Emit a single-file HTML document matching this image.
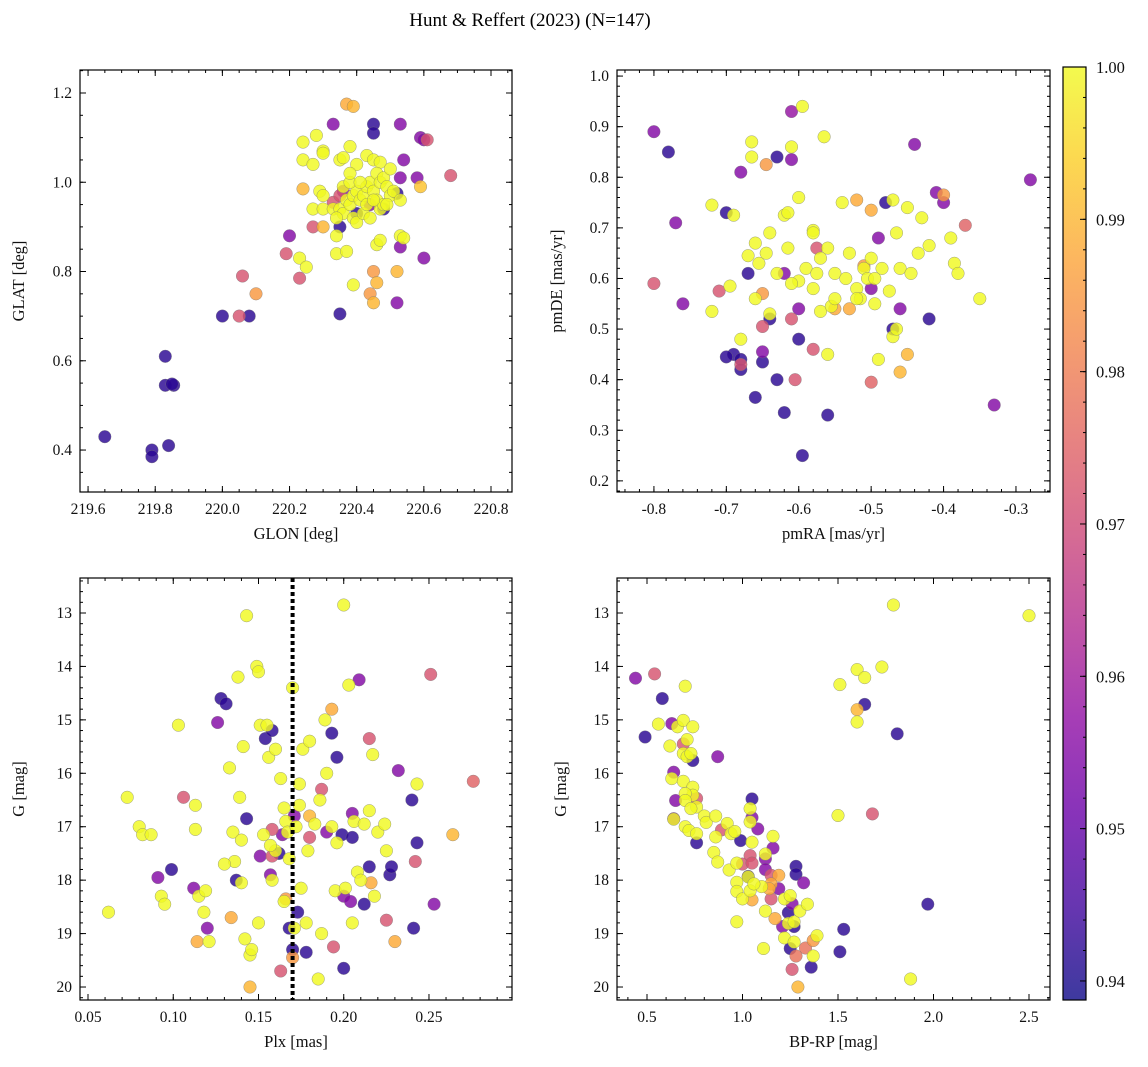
<!DOCTYPE html>
<html><head><meta charset="utf-8"><style>
body{margin:0;background:#fff;}
svg{display:block;font-family:"Liberation Serif",serif;}
</style></head><body>
<svg id="chart" width="1148" height="1067" viewBox="0 0 1148 1067">
<defs><linearGradient id="plasma" x1="0" y1="1" x2="0" y2="0">
<stop offset="0" stop-color="#0d0887"/><stop offset="0.1" stop-color="#41049d"/><stop offset="0.2" stop-color="#6a00a8"/><stop offset="0.3" stop-color="#8f0da4"/><stop offset="0.4" stop-color="#b12a90"/><stop offset="0.5" stop-color="#cc4778"/><stop offset="0.6" stop-color="#e16462"/><stop offset="0.7" stop-color="#f2844b"/><stop offset="0.8" stop-color="#fca636"/><stop offset="0.9" stop-color="#fcce25"/><stop offset="1" stop-color="#f0f921"/>
</linearGradient></defs>
<text x="530" y="26" text-anchor="middle" font-size="19">Hunt &amp; Reffert (2023) (N=147)</text>
</svg>
<script>
const probRange = [0.93875, 1.0];
const cbTicks = [0.94, 0.95, 0.96, 0.97, 0.98, 0.99, 1.00];
const p1Points = [[219.65,0.43,0.942],[219.79,0.40,0.942],[219.79,0.385,0.942],[219.83,0.61,0.942],[219.83,0.545,0.942],[219.855,0.545,0.942],[219.85,0.548,0.942],[219.84,0.41,0.942],[220.0,0.70,0.942],[220.08,0.70,0.942],[220.35,0.705,0.942],[220.45,1.13,0.942],[220.45,1.11,0.942],[220.52,0.975,0.942],[220.35,0.90,0.942],[220.4,0.93,0.942],[220.48,0.94,0.942],
[220.52,0.73,0.955],[220.53,0.855,0.955],[220.6,0.83,0.955],[220.33,1.13,0.955],[220.53,1.13,0.955],[220.54,1.05,0.955],[220.59,1.10,0.955],[220.6,1.095,0.955],[220.58,1.01,0.955],[220.53,1.01,0.955],[220.2,0.88,0.955],[220.36,0.98,0.955],[220.44,0.95,0.955],
[220.06,0.79,0.972],[220.05,0.70,0.972],[220.19,0.84,0.972],[220.23,0.785,0.972],[220.68,1.015,0.972],[220.61,1.095,0.972],[220.27,0.90,0.972],[220.33,0.955,0.972],[220.35,0.97,0.972],
[220.1,0.75,0.985],[220.37,1.175,0.988],[220.39,1.17,0.99],[220.44,0.75,0.985],[220.45,0.80,0.985],[220.52,0.80,0.99],[220.59,0.99,0.992],[220.24,0.985,0.99],[220.3,0.9,0.99],[220.45,0.73,0.99],[220.46,0.775,0.99],
[220.24,1.09,1],[220.28,1.105,1],[220.3,1.07,1],[220.24,1.05,1],[220.27,1.04,1],[220.3,1.065,1],[220.35,1.05,1],[220.36,1.055,1],[220.38,1.08,1],[220.4,1.04,1],[220.43,1.06,1],[220.45,1.05,1],[220.47,1.045,1],[220.29,0.98,1],[220.3,0.97,1],[220.27,0.94,1],[220.3,0.94,1],[220.33,0.94,1],[220.35,0.94,1],[220.36,0.93,1],[220.37,0.96,1],[220.38,0.95,1],[220.39,0.97,1],[220.4,0.98,1],[220.41,0.96,1],[220.42,0.97,1],[220.43,0.99,1],[220.44,1.0,1],[220.45,0.98,1],[220.46,1.02,1],[220.47,1.0,1],[220.48,1.01,1],[220.49,0.99,1],[220.5,1.03,1],[220.36,0.99,1],[220.38,1.0,1],[220.39,0.92,1],[220.4,0.91,1],[220.42,0.93,1],[220.43,0.95,1],[220.44,0.92,1],[220.46,0.96,1],[220.47,0.94,1],[220.48,0.95,1],[220.5,0.97,1],[220.51,0.98,1],[220.23,0.83,1],[220.25,0.81,1],[220.34,0.84,1],[220.34,0.88,1],[220.37,0.845,1],[220.39,0.77,1],[220.46,0.86,1],[220.47,0.87,1],[220.53,0.88,1],[220.54,0.875,1],[220.49,0.95,1],[220.41,1.0,1],[220.53,0.96,1],[220.38,1.02,1],[220.34,0.92,1],[220.45,0.96,1]];
const p2Points = [[-0.78,0.85,0.942],[-0.70,0.73,0.942],[-0.69,0.45,0.942],[-0.68,0.44,0.942],[-0.68,0.42,0.942],[-0.67,0.61,0.942],[-0.66,0.365,0.942],[-0.65,0.435,0.942],[-0.64,0.52,0.942],[-0.63,0.84,0.942],[-0.63,0.40,0.942],[-0.62,0.335,0.942],[-0.6,0.48,0.942],[-0.595,0.25,0.942],[-0.56,0.33,0.942],[-0.48,0.75,0.942],[-0.47,0.50,0.942],[-0.42,0.52,0.942],[-0.70,0.445,0.942],
[-0.80,0.89,0.955],[-0.77,0.71,0.955],[-0.76,0.55,0.955],[-0.68,0.81,0.955],[-0.61,0.835,0.955],[-0.61,0.93,0.958],[-0.60,0.54,0.955],[-0.49,0.68,0.955],[-0.50,0.58,0.955],[-0.46,0.54,0.955],[-0.44,0.865,0.955],[-0.41,0.77,0.955],[-0.40,0.75,0.955],[-0.33,0.35,0.955],[-0.28,0.795,0.955],[-0.65,0.455,0.955],[-0.62,0.61,0.955],
[-0.80,0.59,0.972],[-0.71,0.575,0.972],[-0.65,0.505,0.972],[-0.61,0.52,0.972],[-0.605,0.40,0.972],[-0.58,0.46,0.972],[-0.575,0.66,0.972],[-0.37,0.705,0.975],[-0.50,0.395,0.975],[-0.68,0.43,0.972],
[-0.645,0.825,0.985],[-0.65,0.57,0.985],[-0.52,0.755,0.988],[-0.50,0.735,0.988],[-0.53,0.54,0.988],[-0.51,0.625,0.985],[-0.45,0.45,0.99],[-0.46,0.415,0.99],[-0.40,0.765,0.985],[-0.55,0.54,0.988],
[-0.72,0.745,1],[-0.72,0.535,1],[-0.695,0.585,1],[-0.69,0.725,1],[-0.68,0.48,1],[-0.67,0.645,1],[-0.665,0.87,1],[-0.665,0.84,1],[-0.66,0.67,1],[-0.66,0.56,1],[-0.655,0.63,1],[-0.645,0.65,1],[-0.64,0.53,1],[-0.63,0.61,1],[-0.62,0.725,1],[-0.615,0.73,1],[-0.615,0.66,1],[-0.61,0.86,1],[-0.60,0.76,1],[-0.595,0.94,1],[-0.59,0.62,1],[-0.58,0.695,1],[-0.58,0.58,1],[-0.575,0.61,1],[-0.57,0.535,1],[-0.565,0.88,1],[-0.56,0.66,1],[-0.555,0.545,1],[-0.55,0.61,1],[-0.54,0.75,1],[-0.535,0.60,1],[-0.53,0.65,1],[-0.52,0.58,1],[-0.515,0.56,1],[-0.51,0.62,1],[-0.505,0.6,1],[-0.50,0.64,1],[-0.495,0.55,1],[-0.49,0.44,1],[-0.485,0.62,1],[-0.475,0.575,1],[-0.47,0.755,1],[-0.465,0.69,1],[-0.46,0.62,1],[-0.45,0.74,1],[-0.445,0.61,1],[-0.435,0.65,1],[-0.43,0.72,1],[-0.42,0.665,1],[-0.39,0.68,1],[-0.385,0.63,1],[-0.38,0.61,1],[-0.35,0.56,1],[-0.47,0.485,1],[-0.55,0.56,1],[-0.6,0.595,1],[-0.56,0.45,1],[-0.52,0.56,1],[-0.465,0.50,1],[-0.495,0.6,1],[-0.57,0.64,1],[-0.61,0.59,1],[-0.64,0.69,1],[-0.58,0.69,1]];
const p3Points = [[0.062,18.6,1],[0.073,16.45,1],[0.08,17.0,1],[0.082,17.15,1],[0.087,17.15,1],[0.093,18.3,1],[0.095,18.45,1],[0.103,15.1,1],[0.113,16.6,1],[0.113,17.05,1],[0.115,18.3,1],[0.118,18.6,1],[0.119,18.2,1],[0.121,19.15,1],[0.135,17.1,1],[0.136,17.65,1],[0.138,14.2,1],[0.139,16.45,1],[0.14,18.05,1],[0.14,17.25,1],[0.141,15.5,1],[0.142,19.1,1],[0.143,13.05,1],[0.145,19.4,1],[0.146,19.3,1],[0.149,14.0,1],[0.15,14.1,1],[0.151,15.1,1],[0.153,17.15,1],[0.155,15.1,1],[0.156,15.7,1],[0.158,18.0,1],[0.16,15.55,1],[0.163,16.1,1],[0.165,16.65,1],[0.166,16.9,1],[0.167,17.1,1],[0.168,17.6,1],[0.17,14.4,1],[0.171,18.9,1],[0.172,17.0,1],[0.174,16.2,1],[0.175,18.15,1],[0.176,15.55,1],[0.178,18.8,1],[0.179,17.45,1],[0.18,15.4,1],[0.183,16.95,1],[0.185,19.85,1],[0.186,16.5,1],[0.187,19.0,1],[0.189,15.0,1],[0.19,16.0,1],[0.193,17.0,1],[0.195,18.2,1],[0.196,17.3,1],[0.2,12.85,1],[0.201,18.15,1],[0.203,14.35,1],[0.205,18.8,1],[0.206,16.9,1],[0.208,17.85,1],[0.21,18.0,1],[0.212,16.95,1],[0.215,16.7,1],[0.217,15.65,1],[0.218,18.3,1],[0.22,17.1,1],[0.224,16.95,1],[0.225,17.45,1],[0.243,16.2,1],[0.165,18.4,1],[0.16,17.45,1],[0.15,18.8,1],[0.157,17.35,1],[0.174,16.6,1],[0.13,17.7,1],[0.133,15.9,1],
[0.099,17.8,0.942],[0.128,14.6,0.942],[0.131,14.7,0.942],[0.137,18.0,0.942],[0.143,16.85,0.942],[0.154,15.35,0.942],[0.162,17.5,0.942],[0.168,18.9,0.942],[0.17,19.3,0.942],[0.173,18.6,0.942],[0.178,19.35,0.942],[0.193,15.25,0.942],[0.196,15.7,0.942],[0.199,17.15,0.942],[0.2,19.65,0.942],[0.205,17.2,0.942],[0.212,18.45,0.942],[0.215,17.75,0.942],[0.227,17.9,0.942],[0.228,17.75,0.942],[0.24,16.5,0.942],[0.241,18.9,0.942],[0.243,17.3,0.942],[0.158,15.2,0.942],
[0.091,17.95,0.955],[0.112,18.15,0.955],[0.12,18.9,0.955],[0.126,15.05,0.955],[0.151,17.55,0.955],[0.157,17.9,0.955],[0.164,17.15,0.955],[0.171,16.8,0.955],[0.2,18.3,0.955],[0.205,16.75,0.955],[0.209,14.25,0.955],[0.232,15.95,0.955],[0.253,18.45,0.955],[0.204,18.4,0.955],[0.19,17.1,0.955],
[0.106,16.45,0.972],[0.158,17.05,0.972],[0.163,19.7,0.972],[0.18,17.2,0.972],[0.187,16.3,0.972],[0.194,19.25,0.972],[0.215,15.35,0.972],[0.225,18.75,0.972],[0.242,17.65,0.972],[0.251,14.15,0.972],[0.276,16.15,0.975],[0.158,17.55,0.972],
[0.114,19.15,0.988],[0.134,18.7,0.988],[0.166,18.35,0.985],[0.17,19.45,0.985],[0.193,14.8,0.988],[0.216,18.05,0.988],[0.23,19.15,0.988],[0.264,17.15,0.99],[0.145,20.0,0.99],[0.18,16.8,0.99]];
const p4Points = [[0.44,14.22,0.955],[0.54,14.14,0.972],[0.70,14.37,1],[0.58,14.6,0.942],[0.56,15.08,1],[0.63,15.07,0.955],[0.66,15.13,1],[0.69,15.01,1],[0.74,15.13,1],[0.49,15.32,0.942],[0.62,15.49,1],[0.69,15.45,0.972],[0.71,15.37,1],[0.69,15.63,1],[0.71,15.69,1],[0.73,15.63,1],[0.74,15.76,0.942],[0.87,15.69,0.955],[0.64,15.98,0.955],[0.63,16.1,1],[0.69,16.15,1],[0.74,16.26,1],[0.74,16.41,1],[0.70,16.38,1],[0.76,16.47,0.972],[0.76,16.63,1],[0.65,16.51,0.955],[0.70,16.51,1],[0.73,16.66,1],[0.64,16.85,0.955],[0.64,16.86,1],[0.70,17.0,1],[0.72,17.07,1],[0.76,17.13,1],[0.76,17.3,0.942],[0.80,16.8,1],[0.81,16.92,1],[0.86,16.8,1],[0.86,17.19,1],[0.92,16.94,1],[0.89,17.06,0.972],[0.94,17.13,1],[0.96,17.09,1],[0.99,17.26,0.942],[1.05,16.48,0.942],[1.04,16.66,1],[1.05,16.83,0.955],[1.04,16.91,1],[1.08,17.04,0.955],[1.05,17.29,1],[0.85,17.48,1],[0.87,17.66,1],[0.93,17.81,1],[0.97,17.68,1],[1.0,17.7,0.972],[1.04,17.54,0.972],[1.05,17.68,0.972],[1.12,17.51,1],[1.16,17.4,0.955],[1.16,17.18,1],[1.12,17.6,0.955],[1.12,17.8,0.955],[1.03,17.93,0.942],[1.03,17.94,1],[0.97,18.04,1],[0.97,18.21,1],[1.0,18.35,1],[1.04,18.2,1],[1.05,18.37,0.988],[1.10,18.12,1],[1.06,18.07,1],[1.15,17.91,0.972],[1.19,17.91,0.988],[1.15,18.07,0.988],[1.14,18.16,0.988],[1.19,18.16,0.955],[1.15,18.35,0.972],[1.22,18.35,1],[1.25,18.29,1],[1.28,17.74,0.942],[1.28,17.89,0.942],[1.32,18.05,0.955],[1.26,18.44,0.955],[1.24,18.61,0.942],[1.12,18.58,1],[1.17,18.72,0.988],[1.21,18.87,0.955],[1.24,18.81,1],[1.27,18.87,0.942],[1.27,18.78,1],[1.30,18.58,1],[1.34,18.45,1],[0.97,18.78,1],[1.22,19.08,1],[1.25,19.28,0.942],[1.27,19.16,1],[1.28,19.42,0.978],[1.33,19.27,0.978],[1.37,19.13,0.985],[1.39,19.04,1],[1.37,19.42,1],[1.11,19.28,1],[1.26,19.67,0.972],[1.36,19.63,0.942],[1.29,20.0,0.99],[1.51,19.34,0.942],[1.53,18.92,0.942],[1.50,16.79,1],[1.68,16.76,0.972],[1.51,14.34,1],[1.60,14.06,1],[1.64,14.21,1],[1.73,14.01,1],[1.64,14.71,0.942],[1.60,14.81,0.99],[1.60,15.04,1],[1.81,15.26,0.942],[1.79,12.85,1],[1.97,18.45,0.942],[1.88,19.85,1],[2.50,13.05,1]];
const p1XTicks=[219.6,219.8,220.0,220.2,220.4,220.6,220.8], p1YTicks=[0.4,0.6,0.8,1.0,1.2];
const p2XTicks=[-0.8,-0.7,-0.6,-0.5,-0.4,-0.3], p2YTicks=[0.2,0.3,0.4,0.5,0.6,0.7,0.8,0.9,1.0];
const p3XTicks=[0.05,0.10,0.15,0.20,0.25], gTicks=[13,14,15,16,17,18,19,20];
const p4XTicks=[0.5,1.0,1.5,2.0,2.5];
const plxLine = 0.17;

const svg=document.getElementById('chart');
const NS='http://www.w3.org/2000/svg';
function el(tag,attrs,parent){const e=document.createElementNS(NS,tag);for(const k in attrs)e.setAttribute(k,attrs[k]);(parent||svg).appendChild(e);return e;}
const stops=[[0,[13,8,135]],[0.1,[65,4,157]],[0.2,[106,0,168]],[0.3,[143,13,164]],[0.4,[177,42,144]],[0.5,[204,71,120]],[0.6,[225,100,98]],[0.7,[242,132,75]],[0.8,[252,166,54]],[0.9,[252,206,37]],[1,[240,249,33]]];
function plasma(p){let t=(p-probRange[0])/(probRange[1]-probRange[0]);t=Math.max(0,Math.min(1,t));for(let i=1;i<stops.length;i++){if(t<=stops[i][0]){const a=stops[i-1],b=stops[i],f=(t-a[0])/(b[0]-a[0]);return 'rgb('+a[1].map((v,j)=>Math.round(v+(b[1][j]-v)*f)).join(',')+')';}}return 'rgb(240,249,33)';}
function fmt(v,d){return v.toFixed(d);}
function panel(cfg){
 const {name,box,xr,yr,xt,yt,xminor,yminor,xd,yd,pts,xlabel,ylabel,ylabX}=cfg;
 const [L,T,R,B]=box;
 const sx=v=>L+(v-xr[0])/(xr[1]-xr[0])*(R-L);
 const sy=v=>B-(v-yr[0])/(yr[1]-yr[0])*(B-T);
 const g=el('g',{});
 
 
 const cl=el('clipPath',{id:'clip-'+name},g);el('rect',{x:L,y:T,width:R-L,height:B-T},cl);
 const pg=el('g',{'clip-path':'url(#clip-'+name+')'},g);
 const sorted=pts.slice().sort((a,b)=>a[2]-b[2]);
 sorted.forEach(p=>{const c=el('circle',{cx:sx(p[0]).toFixed(1),cy:sy(p[1]).toFixed(1),r:6.3,fill:plasma(p[2]),'fill-opacity':0.82,stroke:'#777','stroke-width':0.5,'stroke-opacity':0.7},pg);
  
  });
 if(cfg.vline!==undefined){const ln=el('line',{x1:sx(cfg.vline),x2:sx(cfg.vline),y1:T,y2:B,stroke:'#000','stroke-width':4,'stroke-dasharray':'4,3'},pg);
  
  }
 el('rect',{x:L,y:T,width:R-L,height:B-T,fill:'none',stroke:'#000','stroke-width':1.2},g);
 const lo=Math.min(yr[0],yr[1]),hi=Math.max(yr[0],yr[1]);
 for(let v=Math.ceil(xr[0]/xminor-1e-6)*xminor;v<=xr[1]+1e-9;v+=xminor){const x=sx(v);el('line',{x1:x,x2:x,y1:B,y2:B-3,stroke:'#000'},g);el('line',{x1:x,x2:x,y1:T,y2:T+3,stroke:'#000'},g);}
 for(let v=Math.ceil(lo/yminor-1e-6)*yminor;v<=hi+1e-9;v+=yminor){const y=sy(v);el('line',{x1:L,x2:L+3,y1:y,y2:y,stroke:'#000'},g);el('line',{x1:R,x2:R-3,y1:y,y2:y,stroke:'#000'},g);}
 xt.forEach(v=>{const x=sx(v);el('line',{x1:x,x2:x,y1:B,y2:B-6,stroke:'#000'},g);el('line',{x1:x,x2:x,y1:T,y2:T+6,stroke:'#000'},g);
  const t=el('text',{x:x,y:B+22,'text-anchor':'middle','font-size':15.5,fill:'#111'},g);t.textContent=fmt(v,xd);
  
  });
 yt.forEach(v=>{const y=sy(v);el('line',{x1:L,x2:L+6,y1:y,y2:y,stroke:'#000'},g);el('line',{x1:R,x2:R-6,y1:y,y2:y,stroke:'#000'},g);
  const t=el('text',{x:L-8,y:y+5,'text-anchor':'end','font-size':15.5,fill:'#111'},g);t.textContent=fmt(v,yd);
  
  });
 const xl=el('text',{x:(L+R)/2,y:B+47,'text-anchor':'middle','font-size':16.5,fill:'#111'},g);xl.textContent=xlabel;
 
 
 const cy=(T+B)/2;const yl=el('text',{x:ylabX,y:cy,'text-anchor':'middle','font-size':16.5,fill:'#111',transform:'rotate(-90 '+ylabX+' '+cy+')'},g);yl.textContent=ylabel;
 
 
}
panel({name:'glon-glat',box:[80,70,512,492],xr:[219.576,220.8625],yr:[0.306,1.2515],xt:p1XTicks,yt:p1YTicks,xminor:0.05,yminor:0.05,xd:1,yd:1,pts:p1Points,xlabel:'GLON [deg]',ylabel:'GLAT [deg]',ylabX:24});
panel({name:'proper-motion',box:[617,70,1050,492],xr:[-0.851,-0.253],yr:[0.178,1.012],xt:p2XTicks,yt:p2YTicks,xminor:0.02,yminor:0.02,xd:1,yd:1,pts:p2Points,xlabel:'pmRA [mas/yr]',ylabel:'pmDE [mas/yr]',ylabX:562});
panel({name:'parallax-mag',box:[80,578,512,1000],xr:[0.0453,0.2987],yr:[20.243,12.345],xt:p3XTicks,yt:gTicks,xminor:0.01,yminor:0.2,xd:2,yd:0,pts:p3Points,xlabel:'Plx [mas]',ylabel:'G [mag]',ylabX:24,vline:plxLine});
panel({name:'color-magnitude',box:[617,578,1050,1000],xr:[0.343,2.61],yr:[20.243,12.345],xt:p4XTicks,yt:gTicks,xminor:0.1,yminor:0.2,xd:1,yd:0,pts:p4Points,xlabel:'BP-RP [mag]',ylabel:'G [mag]',ylabX:566});
// colorbar
(function(){const L=1063,R=1086,T=67,B=1000;
 const cb=el('g',{});
 
 
 el('rect',{x:L,y:T,width:R-L,height:B-T,fill:'url(#plasma)','fill-opacity':0.8},cb);
 el('rect',{x:L,y:T,width:R-L,height:B-T,fill:'none',stroke:'#000','stroke-width':1.2},cb);
 const sy=v=>B-(v-probRange[0])/(probRange[1]-probRange[0])*(B-T);
 for(let v=Math.ceil(probRange[0]/0.002)*0.002;v<=probRange[1]+1e-9;v+=0.002){const y=sy(v);el('line',{x1:R,x2:R-3,y1:y,y2:y,stroke:'#000'},cb);}
 cbTicks.forEach(v=>{const y=sy(v);el('line',{x1:R,x2:R-6,y1:y,y2:y,stroke:'#000'},cb);
  const t=el('text',{x:R+10,y:y+6,'font-size':16.5,fill:'#111'},cb);t.textContent=v.toFixed(2);
  
  });
})();
</script>
</body></html>
